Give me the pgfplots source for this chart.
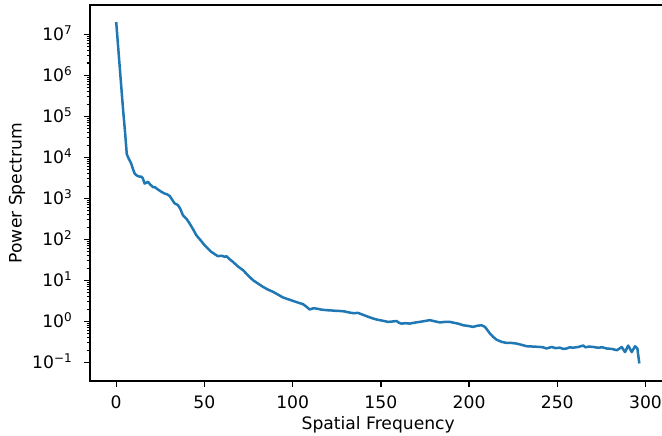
\documentclass[border=0pt]{standalone}
\usepackage{fontspec}
\setmainfont{DejaVu Sans}
\usepackage{pgfplots}
\pgfplotsset{compat=1.18}
\definecolor{mplblue}{HTML}{1F77B4}
\begin{document}
\fontsize{12.4}{14.9}\selectfont
\begin{tikzpicture}
\path[use as bounding box, clip] (-64.8bp,-39.6bp) rectangle (411.84bp,274.32bp);
\begin{axis}[
  at={(0,0)}, anchor=south west,
  scale only axis, width=415bp, height=270.7bp,
  ymode=log,
  xmin=-14.85, xmax=311.85,
  ymin=0.0355, ymax=5.18e7,
  axis line style={line width=1bp, black},
  tick align=outside,
  xtick pos=bottom, ytick pos=left,
  major tick length=4.3bp, minor tick length=2.5bp,
  every tick/.style={black, line width=1bp},
  every minor tick/.style={black, line width=0.75bp},
  xtick={0,50,100,150,200,250,300},
  xticklabels={0,50,100,150,200,250,300},
  ytick={1e-1,1,1e1,1e2,1e3,1e4,1e5,1e6,1e7},
  yticklabels={10\textsuperscript{−1},10\textsuperscript{0},10\textsuperscript{1},10\textsuperscript{2},10\textsuperscript{3},10\textsuperscript{4},10\textsuperscript{5},10\textsuperscript{6},10\textsuperscript{7}},
  ticklabel style={font=\fontsize{12.4}{14.9}\selectfont, text=black},
  xticklabel style={anchor=base, yshift=-15.5bp},
  yticklabel style={anchor=base east, yshift=-4.5bp, xshift=-4bp},
  every axis x label/.style={at={(axis description cs:0.5,0)}, anchor=base, yshift=-34.6bp, font=\fontsize{12.4}{14.9}\selectfont, text=black},
  every axis y label/.style={at={(axis description cs:0,0.5)}, rotate=90, anchor=center, yshift=52.6bp, font=\fontsize{12.4}{14.9}\selectfont, text=black},
  xlabel={Spatial Frequency},
  ylabel={Power Spectrum},
  clip=true,
]
\addplot[mplblue, line width=1.8bp, line join=round] coordinates {
(0,2.0e7) (1,5.6e6) (2,1.6e6) (3,4.5e5) (4,1.3e5) (5,4.2e4) (6,1.2e4)
(7,9.5e3) (8.5,7.1e3) (9.5,5.2e3) (10.4,4.1e3) (11.4,3.7e3) (12.3,3.5e3) (13.3,3.4e3) (14.2,3.4e3)
(15.1,3.1e3) (16.1,2.3e3) (17,2.4e3) (18,2.55e3) (19.2,2.2e3) (20.8,1.9e3) (22.2,1.85e3)
(23.6,1.66e3) (25.6,1.45e3) (27.4,1.32e3) (29,1.25e3) (30.3,1.15e3) (31.6,9.5e2)
(33.1,7.6e2) (35,6.9e2) (36.4,5.5e2) (37.8,3.9e2) (39.8,3.2e2) (41.6,2.45e2) (43.5,1.8e2)
(45.4,1.27e2) (47.8,9.6e1) (50.1,72.6) (52,60) (53.9,50) (55.8,44) (57.7,39) (59,40) (60,40)
(61.5,37.7) (62.5,39) (64.3,33) (66.2,28.4) (69,22) (71.9,17.8) (74.6,13.5) (77.5,10.2)
(80.4,8.4) (83.2,7.0) (86,6.0) (88.9,5.3) (91.8,4.5) (94.6,3.85) (97.4,3.5) (100.2,3.18)
(103,2.9) (105.9,2.64) (107.8,2.3) (109.7,1.96) (111.6,2.1) (113.5,2.07) (116.3,1.95)
(119.2,1.89) (122,1.86) (124.8,1.82) (127.5,1.80) (129.5,1.76) (131.4,1.68) (134.3,1.60)
(137.1,1.62) (139.5,1.48) (141.9,1.35) (144.7,1.22) (147.5,1.12) (150.8,1.05) (154.1,0.98)
(156.5,1.0) (158.9,1.03) (160.3,0.93) (161.7,0.89) (164,0.91) (166.4,0.89) (169.2,0.94)
(172.1,0.98) (175,1.03) (177.8,1.08) (180.6,1.01) (183.5,0.95) (186.3,0.98) (189.1,0.98)
(191.5,0.93) (193.8,0.89) (196.7,0.81) (199.5,0.78) (202.3,0.74) (204.7,0.79) (207.1,0.81)
(209,0.74) (210.4,0.62) (211.8,0.51) (213.7,0.42) (215.6,0.36) (218.4,0.32) (221.3,0.30)
(224.2,0.30) (227,0.29) (229.8,0.27) (232.6,0.25) (236.4,0.245) (240.2,0.24) (242,0.235)
(244,0.22) (246.8,0.24) (249,0.225) (251.5,0.23) (253.4,0.215) (255.3,0.22) (257,0.235)
(259,0.23) (262,0.24) (264.7,0.26) (266,0.235) (268,0.245) (270.4,0.24) (273,0.23)
(275.5,0.235) (278,0.22) (281,0.215) (283.7,0.20) (285,0.215) (286.5,0.24) (288.4,0.18)
(290.2,0.26) (292.2,0.18) (294.1,0.25) (295.4,0.22) (296.5,0.095)
};
\end{axis}
\end{tikzpicture}
\end{document}
